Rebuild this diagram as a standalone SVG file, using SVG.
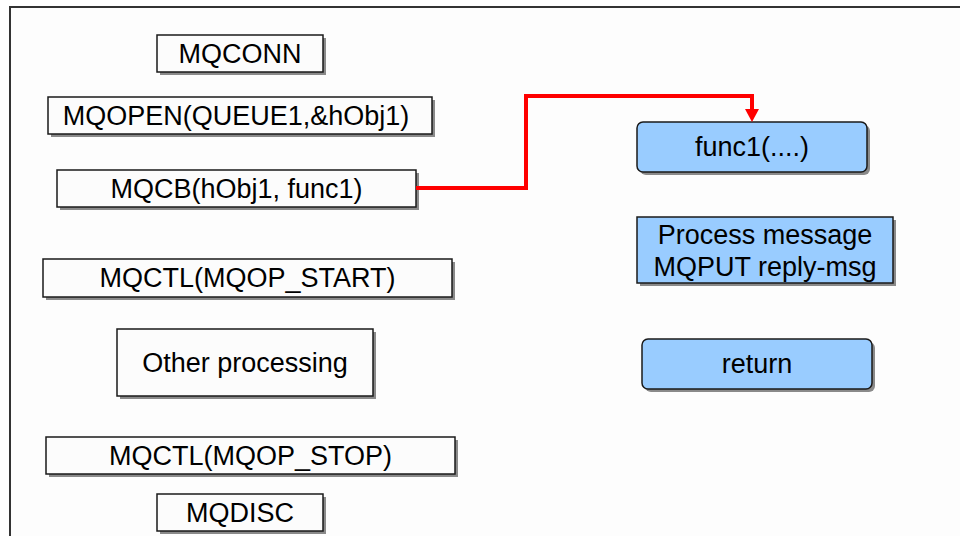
<svg xmlns="http://www.w3.org/2000/svg" width="960" height="536" viewBox="0 0 960 536">
<style>
  .box { fill: #fcfcfc; stroke: #1a1a1a; stroke-width: 1.5; }
  .blue { fill: #99ccff; stroke: #1a1a1a; stroke-width: 1.5; }
  .shadow { fill: #8a8a8a; }
  .t { font-family: "Liberation Sans", Arial, sans-serif; font-size: 27px; fill: #000; text-anchor: middle; }
  .conn { fill: none; stroke: #ff0000; stroke-width: 4; }
</style>
<rect x="0" y="0" width="960" height="536" fill="#ffffff"/>
<rect x="10" y="7" width="955" height="535" fill="#fdfdfd"/>
<path d="M10,540 L10,7 L965,7" fill="none" stroke="#333333" stroke-width="2"/>

<g id="mqconn">
  <rect class="shadow" x="160" y="38" width="166" height="37"/>
  <rect class="box" x="157" y="35" width="166" height="37"/>
  <text class="t" x="240" y="63">MQCONN</text>
</g>
<g id="mqopen">
  <rect class="shadow" x="51" y="100" width="384" height="37"/>
  <rect class="box" x="48" y="97" width="384" height="37"/>
  <text class="t" x="236" y="125">MQOPEN(QUEUE1,&amp;hObj1)</text>
</g>
<g id="mqcb">
  <rect class="shadow" x="60" y="173" width="359" height="37"/>
  <rect class="box" x="57" y="170" width="359" height="37"/>
  <text class="t" x="236.5" y="198">MQCB(hObj1, func1)</text>
</g>
<g id="mqctl-start">
  <rect class="shadow" x="46" y="262" width="409" height="38"/>
  <rect class="box" x="43" y="259" width="409" height="38"/>
  <text class="t" x="247.5" y="287">MQCTL(MQOP_START)</text>
</g>
<g id="other">
  <rect class="shadow" x="120" y="332" width="256" height="67"/>
  <rect class="box" x="117" y="329" width="256" height="67"/>
  <text class="t" x="245" y="372">Other processing</text>
</g>
<g id="mqctl-stop">
  <rect class="shadow" x="49" y="440" width="409" height="37"/>
  <rect class="box" x="46" y="437" width="409" height="37"/>
  <text class="t" x="250.5" y="465">MQCTL(MQOP_STOP)</text>
</g>
<g id="mqdisc">
  <rect class="shadow" x="160" y="497" width="166" height="37"/>
  <rect class="box" x="157" y="494" width="166" height="37"/>
  <text class="t" x="240" y="522">MQDISC</text>
</g>

<g id="func1">
  <rect class="shadow" x="640" y="125" width="230" height="50" rx="6"/>
  <rect class="blue" x="637" y="122" width="230" height="50" rx="6"/>
  <text class="t" x="752" y="156">func1(....)</text>
</g>
<g id="process">
  <rect class="shadow" x="640" y="220" width="256" height="66"/>
  <rect class="blue" x="637" y="217" width="256" height="66"/>
  <text class="t" x="765" y="244">Process message</text>
  <text class="t" x="765" y="276">MQPUT reply-msg</text>
</g>
<g id="return">
  <rect class="shadow" x="645" y="342" width="230" height="50" rx="6"/>
  <rect class="blue" x="642" y="339" width="230" height="50" rx="6"/>
  <text class="t" x="757" y="373">return</text>
</g>

<g id="connectors">
  <path class="conn" d="M416,188 L526,188 L526,96 L752,96 L752,110"/>
  <path d="M745,109 L759,109 L752,122 Z" fill="#ff0000"/>
</g>
</svg>
